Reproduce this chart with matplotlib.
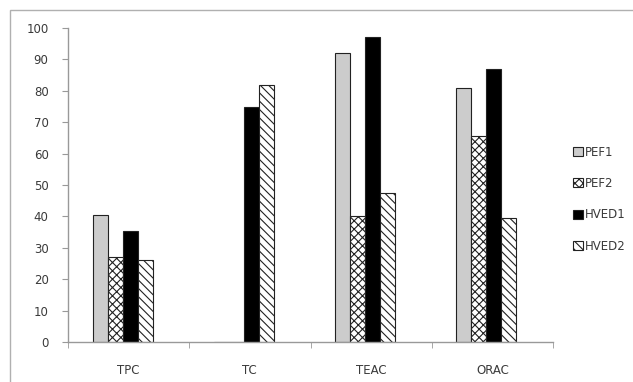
import matplotlib.pyplot as plt
import numpy as np

categories = ["TPC", "TC", "TEAC", "ORAC"]
series = ["PEF1", "PEF2", "HVED1", "HVED2"]
pef1 = [40.5, 0, 92, 81]
pef2 = [27, 0, 40, 65.5]
hved1 = [35.5, 75, 97, 87]
hved2 = [26, 82, 47.5, 39.5]

fig = plt.figure(figsize=(6.33, 3.82), dpi=100)
ax = fig.add_axes([68 / 633, 1 - 342 / 382, (553 - 68) / 633, (342 - 28) / 382])

# thin grey frame around the chart area, like the excel export
fig.patches.append(plt.Rectangle((10 / 633, -0.1), 1.2, 1 - 10 / 382 + 0.1,
                                 transform=fig.transFigure, fill=False,
                                 edgecolor="#b0b0b0", linewidth=1.0))

plt.rcParams['hatch.linewidth'] = 0.8
x = np.arange(len(categories))
w = 0.1235
shift = -0.05  # bar groups sit a bit left of the category centre in the original
styles = [
    dict(color="#cccccc", hatch=None),
    dict(color="white", hatch="xxxx"),
    dict(color="black", hatch=None),
    dict(color="white", hatch="\\\\\\\\"),
]
data = [pef1, pef2, hved1, hved2]
for i, (vals, st) in enumerate(zip(data, styles)):
    ax.bar(x + shift + (i - 1.5) * w, vals, w, facecolor=st["color"], hatch=st["hatch"],
           edgecolor="#222222", linewidth=0.8, label=series[i])

ax.set_xlim(-0.5, 3.5)
ax.set_ylim(0, 100)
ax.set_yticks(range(0, 101, 10))
ax.set_xticks(x)
ax.set_xticklabels(categories)
ax.set_xticks(np.arange(-0.5, 4, 1), minor=True)
ax.tick_params(axis="x", which="major", length=0, pad=16, labelsize=8.5, labelcolor="#3a3a3a")
ax.tick_params(axis="x", which="minor", length=4, color="#999999", direction="out")
ax.tick_params(axis="y", length=4, color="#999999", labelsize=8.5, labelcolor="#3a3a3a", pad=10)
for s in ["top", "right"]:
    ax.spines[s].set_visible(False)
for s in ["left", "bottom"]:
    ax.spines[s].set_color("#999999")
    ax.spines[s].set_linewidth(1.0)

ax.legend(loc="center left", bbox_to_anchor=(1.02, 0.455), frameon=False, fontsize=8.5,
          handlelength=0.8, handleheight=0.8, handletextpad=0.2, labelspacing=1.55,
          labelcolor="#3a3a3a")

plt.savefig("out.png", dpi=100)
